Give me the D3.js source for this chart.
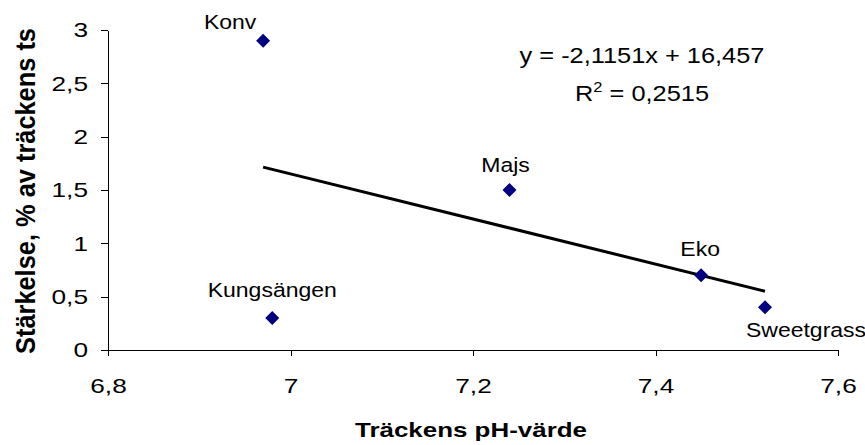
<!DOCTYPE html>
<html>
<head>
<meta charset="utf-8">
<script src="https://cdn.jsdelivr.net/npm/d3@7"></script>
<style>
    body { margin: 0; background: #fff; }
    text { font-family: "Liberation Sans", Arial, sans-serif; fill: #000; }
</style>
</head>
<body>
<div id="phplot"></div>
<script>
// data
var names = ["Konv", "Kungsängen", "Majs", "Eko", "Sweetgrass"];
var phValues = [6.97, 6.98, 7.24, 7.45, 7.52];
var starchValues = [2.9, 0.3, 1.5, 0.7, 0.4];
var xTicks = [6.8, 7.0, 7.2, 7.4, 7.6];
var yTicks = [0, 0.5, 1, 1.5, 2, 2.5, 3];
var trendSlope = -2.1151;
var trendIntercept = 16.457;
var rSquared = "0,2515";

var width = 865, height = 445;
var margin = {top: 30, right: 27, bottom: 95, left: 108};
var sx = 1.18;     // text in the reference is drawn a bit wide
var tickSx = 1.25;

var svg = d3.select("#phplot")
    .append("svg")
    .attr("width", width)
    .attr("height", height);

var x = d3.scaleLinear()
    .domain([6.8, 7.6])
    .range([margin.left, width - margin.right]);

var y = d3.scaleLinear()
    .domain([0, 3])
    .range([height - margin.bottom, margin.top]);

var comma = function (d) { return String(d).replace(".", ","); };

// y axis
var yAxis = svg.append("g")
    .attr("transform", "translate(" + margin.left + ",0)")
    .call(d3.axisLeft(y).tickValues(yTicks).tickFormat(comma).tickSize(7).tickSizeOuter(0).tickPadding(9));
yAxis.selectAll("text")
    .style("font-size", "21px")
    .attr("transform", "scale(" + tickSx + ",1)");

// x axis
var xAxis = svg.append("g")
    .attr("transform", "translate(0," + y(0) + ")")
    .call(d3.axisBottom(x).tickValues(xTicks).tickFormat(comma).tickSize(6).tickSizeOuter(0).tickPadding(22));
xAxis.selectAll("text")
    .style("font-size", "21px")
    .attr("transform", "scale(" + tickSx + ",1)");

svg.selectAll(".domain, .tick line")
    .attr("stroke", "#000")
    .attr("shape-rendering", "crispEdges");

// trendline
var x0 = d3.min(phValues), x1 = d3.max(phValues);
svg.append("line")
    .attr("x1", x(x0))
    .attr("y1", y(trendSlope * x0 + trendIntercept))
    .attr("x2", x(x1))
    .attr("y2", y(trendSlope * x1 + trendIntercept))
    .attr("stroke", "#000")
    .attr("stroke-width", 3);

// points
var diamond = d3.symbol().type(d3.symbolSquare).size(98);
svg.selectAll(".pt")
    .data(names)
    .enter()
    .append("path")
    .attr("class", "pt")
    .attr("d", diamond)
    .attr("transform", function (d, i) {
        return "translate(" + x(phValues[i]) + "," + y(starchValues[i]) + ") rotate(45)";
    })
    .attr("fill", "#000080");

// point labels
var labelShift = {
    "Konv": [-33, -12],
    "Kungsängen": [0, -21],
    "Majs": [-4, -18],
    "Eko": [-1, -19],
    "Sweetgrass": [41, 30]
};
svg.selectAll(".lbl")
    .data(names)
    .enter()
    .append("text")
    .attr("class", "lbl")
    .attr("text-anchor", "middle")
    .style("font-size", "19.5px")
    .attr("transform", function (d, i) {
        var s = labelShift[d];
        return "translate(" + (x(phValues[i]) + s[0]) + "," + (y(starchValues[i]) + s[1]) + ") scale(" + sx + ",1)";
    })
    .text(function (d) { return d; });

// equation
var eq = svg.append("g")
    .attr("transform", "translate(642,0) scale(" + sx + ",1)");
eq.append("text")
    .attr("y", 63)
    .attr("text-anchor", "middle")
    .style("font-size", "21.5px")
    .text("y = " + comma(trendSlope) + "x + " + comma(trendIntercept));
var r2 = eq.append("text")
    .attr("y", 101)
    .attr("text-anchor", "middle")
    .style("font-size", "21.5px");
r2.append("tspan").text("R");
r2.append("tspan").attr("dy", -9).style("font-size", "14px").text("2");
r2.append("tspan").attr("dy", 9).text(" = " + rSquared);

// axis titles
svg.append("text")
    .attr("x", 471)
    .attr("y", 437)
    .attr("text-anchor", "middle")
    .style("font-size", "21px")
    .style("font-weight", "bold")
    .attr("textLength", 232)
    .attr("lengthAdjust", "spacingAndGlyphs")
    .text("Träckens pH-värde");

svg.append("text")
    .attr("transform", "translate(35,191) scale(1.25,1) rotate(-90)")
    .attr("text-anchor", "middle")
    .style("font-size", "22px")
    .style("font-weight", "bold")
    .attr("textLength", 326)
    .attr("lengthAdjust", "spacingAndGlyphs")
    .text("Stärkelse, % av träckens ts");
</script>
</body>
</html>
